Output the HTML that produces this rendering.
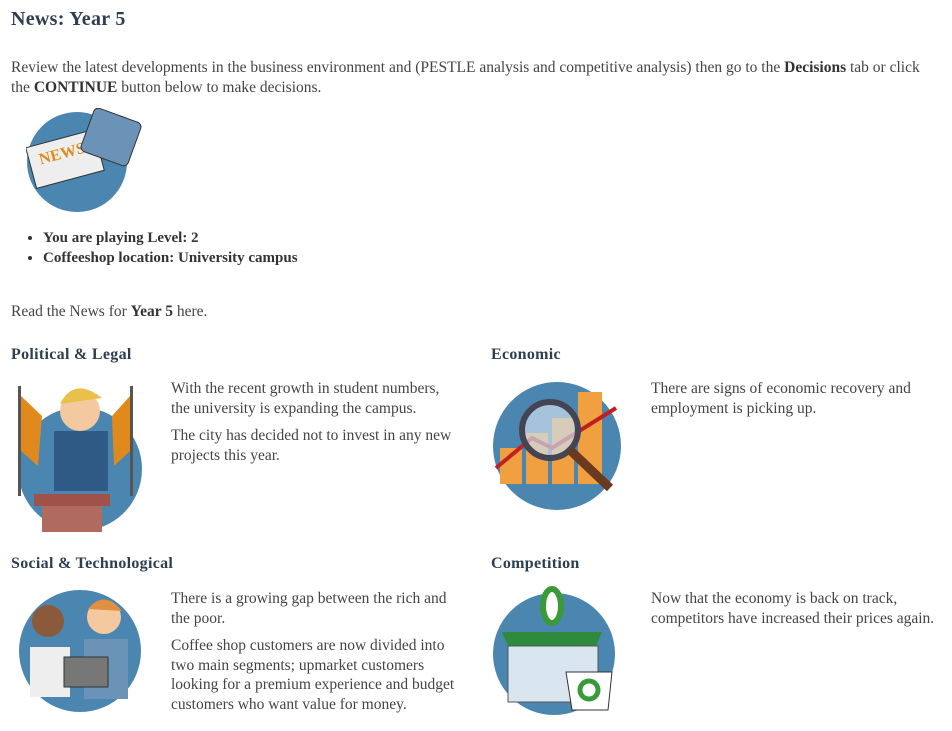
<!DOCTYPE html>
<html><head><meta charset="utf-8">
<style>
body{margin:0;width:952px;height:731px;background:#fff;font-family:"Liberation Serif",serif;color:#444;overflow:hidden;position:relative}
.a{position:absolute}
.h1{position:absolute;left:11px;top:8px;margin:0;font-size:20px;color:#2c3e50;font-weight:700;letter-spacing:0.3px}
p{margin:0}
.t{font-size:15.5px;line-height:19.5px}
.h3{position:absolute;margin:0;font-size:16px;color:#2c3e50;font-weight:700;letter-spacing:0.3px}
b{color:#333}
ul{margin:0;padding-left:32px}
li{font-size:15px;line-height:20px;font-weight:bold;color:#333}
</style></head><body>
<div class="h1">News: Year 5</div>
<p class="a t" style="left:11px;top:58px;width:925px">Review the latest developments in the business environment and (PESTLE analysis and competitive analysis) then go to the <b>Decisions</b> tab or click the <b>CONTINUE</b> button below to make decisions.</p>
<svg class="a" style="left:26px;top:108px" width="124" height="106">
<circle cx="51" cy="54" r="50" fill="#4a86b0"/>
<rect x="4" y="30" width="70" height="42" fill="#eee" stroke="#333" transform="rotate(-15 39 51)"/>
<text x="14" y="50" font-size="16" font-weight="bold" fill="#e08a1e" transform="rotate(-15 39 51)">NEWS</text>
<rect x="60" y="6" width="50" height="46" rx="5" fill="#6b93b8" stroke="#333" transform="rotate(20 85 29)"/>
</svg>
<ul class="a" style="left:11px;top:228px">
<li>You are playing Level: 2</li>
<li>Coffeeshop location: University campus</li>
</ul>
<p class="a t" style="left:11px;top:302px">Read the News for <b>Year 5</b> here.</p>

<div class="h3" style="left:11px;top:346px">Political &amp; Legal</div>
<svg class="a" style="left:14px;top:376px" width="132" height="158">
<circle cx="66" cy="93" r="62" fill="#4a86b0"/>
<rect x="4" y="10" width="3" height="110" fill="#555"/><path d="M7 20 L28 40 L24 90 L7 75Z" fill="#e08a1e"/>
<rect x="116" y="10" width="3" height="110" fill="#555"/><path d="M116 20 L98 40 L100 90 L116 75Z" fill="#e08a1e"/>
<rect x="40" y="55" width="54" height="60" fill="#2f5a86"/>
<circle cx="66" cy="35" r="20" fill="#f4c9a0"/><path d="M46 28 Q60 0 88 22 Z" fill="#e8c04a"/>
<rect x="20" y="118" width="76" height="12" fill="#a0524a"/><rect x="28" y="130" width="60" height="26" fill="#b06a5e"/>
</svg>
<div class="a t" style="left:171px;top:379px;width:290px">
<p>With the recent growth in student numbers, the university is expanding the campus.</p>
<p style="margin-top:8px">The city has decided not to invest in any new projects this year.</p></div>

<div class="h3" style="left:491px;top:346px">Economic</div>
<svg class="a" style="left:492px;top:378px" width="132" height="136">
<circle cx="65" cy="68" r="64" fill="#4a86b0"/>
<rect x="8" y="70" width="22" height="36" fill="#f0a040"/><rect x="34" y="55" width="22" height="51" fill="#f0a040"/><rect x="60" y="40" width="22" height="66" fill="#f0a040"/><rect x="86" y="14" width="24" height="92" fill="#f0a040"/>
<path d="M4 90 L40 60 L60 70 L124 30" stroke="#c02020" stroke-width="4" fill="none"/>
<circle cx="58" cy="52" r="28" fill="#cde" fill-opacity=".7" stroke="#445" stroke-width="6"/>
<path d="M78 72 L118 110" stroke="#6b3a1e" stroke-width="9"/>
</svg>
<div class="a t" style="left:651px;top:379px;width:285px">
<p>There are signs of economic recovery and employment is picking up.</p></div>

<div class="h3" style="left:11px;top:555px">Social &amp; Technological</div>
<svg class="a" style="left:18px;top:587px" width="126" height="128">
<circle cx="62" cy="64" r="61" fill="#4a86b0"/>
<circle cx="30" cy="34" r="16" fill="#8a5a3a"/><circle cx="86" cy="30" r="17" fill="#f4c9a0"/><path d="M70 22 Q86 2 104 24Z" fill="#e09040"/>
<rect x="12" y="60" width="40" height="50" fill="#eee"/><rect x="66" y="52" width="44" height="60" fill="#6b93b8"/>
<rect x="46" y="70" width="44" height="30" fill="#777" stroke="#333"/>
</svg>
<div class="a t" style="left:171px;top:589px;width:290px">
<p>There is a growing gap between the rich and the poor.</p>
<p style="margin-top:8px">Coffee shop customers are now divided into two main segments; upmarket customers looking for a premium experience and budget customers who want value for money.</p></div>

<div class="h3" style="left:491px;top:555px">Competition</div>
<svg class="a" style="left:492px;top:586px" width="132" height="134">
<circle cx="62" cy="68" r="61" fill="#4a86b0"/>
<ellipse cx="60" cy="20" rx="9" ry="17" fill="#fff" stroke="#3a9a3a" stroke-width="6"/>
<path d="M10 46 L110 46 L104 60 L16 60Z" fill="#2e8b3e"/>
<rect x="16" y="60" width="90" height="56" fill="#d9e6ef" stroke="#555"/>
<path d="M74 86 L120 86 L116 124 L80 124Z" fill="#fff" stroke="#333"/>
<circle cx="97" cy="104" r="9" fill="none" stroke="#3a9a3a" stroke-width="5"/>
</svg>
<div class="a t" style="left:651px;top:589px;width:300px">
<p>Now that the economy is back on track, competitors have increased their prices again.</p></div>
</body></html>
